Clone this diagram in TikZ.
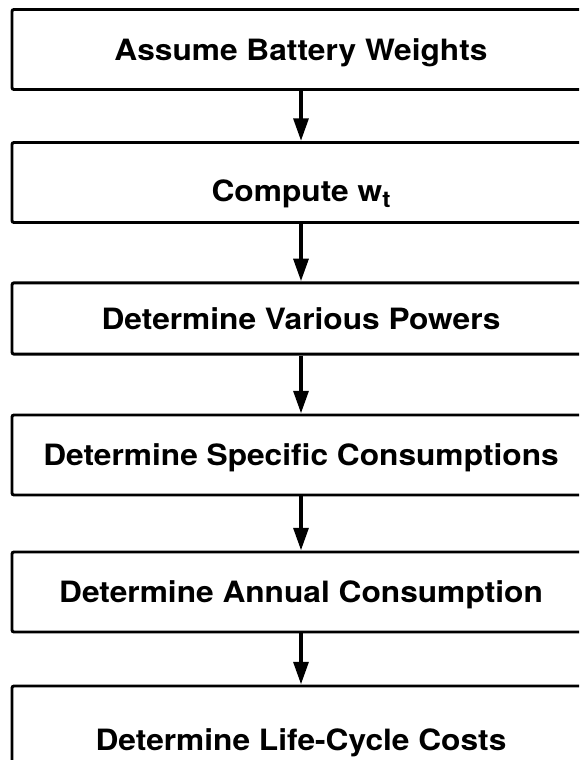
\documentclass[tikz,border=0pt]{standalone}
\usepackage{fontspec}
\setsansfont{TeX Gyre Heros}[FakeStretch=1.08]
\usetikzlibrary{arrows.meta}

\begin{document}
\begin{tikzpicture}[x=0.75pt,y=-0.75pt,
    stepbox/.style={draw,line width=2.2pt,rounded corners=1.5pt,
        minimum width=433.5pt,minimum height=60pt,
        text height=15.8pt,text depth=0pt,
        font=\sffamily\bfseries\fontsize{22}{26}\selectfont},
    flowarrow/.style={line width=3pt,-{Triangle[width=11pt,length=17pt]}}]
\useasboundingbox (0,0) rectangle (579,760);
\clip (0,0) rectangle (579,760);

\node[stepbox] (weights) at (301,49.5) {Assume Battery Weights};
\node[stepbox,text height=28.6pt] (wt) at (301,182.5) {Compute w\raisebox{-4.5pt}{\fontsize{17}{17}\selectfont t}};
\node[stepbox,minimum height=53.5pt] (powers) at (301,318.5) {Determine Various Powers};
\node[stepbox] (specific) at (301,455) {Determine Specific Consumptions};
\node[stepbox] (annual) at (301,592) {Determine Annual Consumption};
\node[stepbox,text height=36.8pt] (lcc) at (301,726) {Determine Life-Cycle Costs};

\draw[flowarrow] (weights) -- (wt);
\draw[flowarrow] (wt) -- (powers);
\draw[flowarrow] (powers) -- (specific);
\draw[flowarrow] (specific) -- (annual);
\draw[flowarrow] (annual) -- (lcc);
\end{tikzpicture}
\end{document}
